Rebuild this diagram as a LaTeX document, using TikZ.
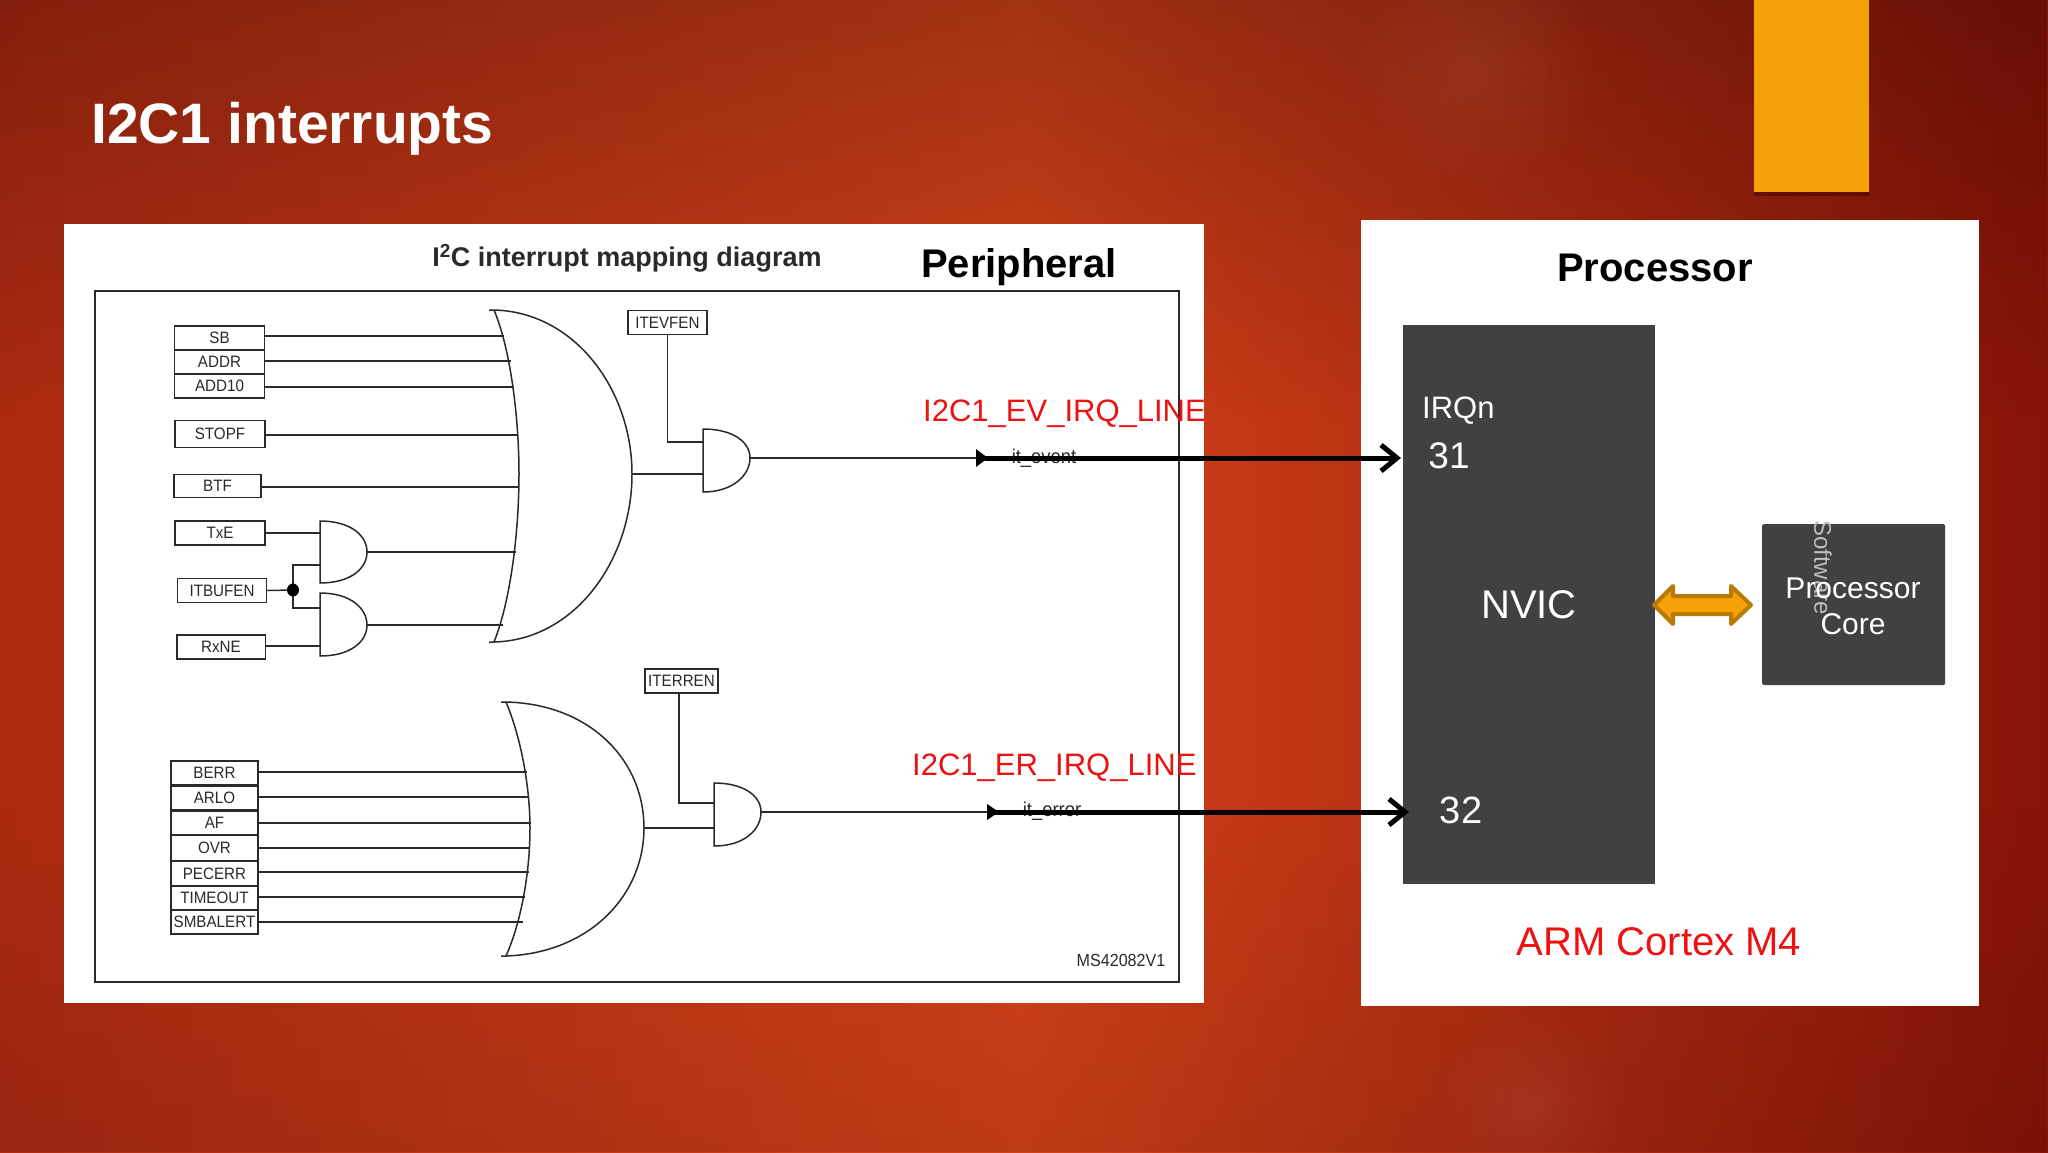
\documentclass[tikz,border=0pt]{standalone}
\usepackage{fontspec}
\setmainfont{Liberation Sans}
\newfontfamily\narrowf[FakeStretch=0.92]{Liberation Sans}
\usetikzlibrary{arrows.meta,fadings,shadows}
\newcommand{\fs}[1]{\fontsize{#1}{#1}\selectfont}
\definecolor{bgdark}{HTML}{AC2A12}
\definecolor{bgmid}{HTML}{D4421A}
\definecolor{bgright}{HTML}{861408}
\definecolor{wirecol}{HTML}{2A2A2A}
\definecolor{blockcol}{HTML}{414042}
\definecolor{amber}{HTML}{F5A209}
\definecolor{amberdk}{HTML}{B97A06}
\definecolor{redlabel}{HTML}{EE1111}
\tikzfading[name=softspot,inner color=transparent!0,outer color=transparent!100]
\tikzset{
  x=1pt,y=-1pt,
  wire/.style={draw=wirecol,line width=1.5pt},
  gate/.style={draw=wirecol,line width=1.5pt,line join=round},
  sigbox/.style={draw=wirecol,line width=1.5pt,fill=white,inner sep=0pt,text=wirecol,
    font=\narrowf\fs{16.5}},
  whitepanel/.style={fill=white},
  redtext/.style={text=redlabel,inner sep=0pt},
  wtext/.style={text=white,inner sep=0pt},
  heavy/.style={line width=5pt,black,shorten >=2pt,-{Straight Barb[length=16pt,width=26pt,line width=5pt]}},
  tinytext/.style={text=wirecol,inner sep=0pt,font=\narrowf\fs{20}},
}
\begin{document}
\begin{tikzpicture}
\useasboundingbox (0,0) rectangle (2048,1152);
% background
\shade[left color=bgdark,right color=bgright,middle color=bgmid] (0,0) rectangle (2048,1152);
\fill[black,opacity=.24,path fading=south] (0,0) rectangle (2048,420);
\fill[black,opacity=.10,path fading=north] (0,800) rectangle (2048,1152);
\fill[white,opacity=.06,path fading=softspot] (1475,65) circle (130);
\fill[white,opacity=.05,path fading=softspot] (1530,1105) circle (100);
% orange tab
\fill[black!70!red,opacity=.5] (1754,0) rectangle (1869,196);
\fill[amber] (1754,0) rectangle (1869,192);
% title
\node[text=white,inner sep=0pt,anchor=west,font=\bfseries\fs{57}] (title) at (91,129) {I2C1 interrupts};
% panels
\fill[whitepanel] (64,224) rectangle (1203.5,1003);
\fill[whitepanel] (1361,219.5) rectangle (1979,1006);
% frame
\node[draw=wirecol,line width=1.5pt,inner sep=0pt,minimum width=1084pt,minimum height=691pt,anchor=north west] (frame) at (94,290) {};
% headings
\node[inner sep=0pt,text=wirecol,font=\bfseries\fs{27}] (diag) at (627,258.5) {I\textsuperscript{2}C interrupt mapping diagram};
\node[inner sep=0pt,font=\bfseries\fs{40}] (periph) at (1019,267) {Peripheral};
\node[inner sep=0pt,font=\bfseries\fs{40}] (proc) at (1655,268) {Processor};
% event inputs
\node[sigbox,minimum width=90pt,minimum height=24pt] (sb) at (219.5,338) {SB};
\node[sigbox,minimum width=90pt,minimum height=24pt] (addr) at (219.5,362) {ADDR};
\node[sigbox,minimum width=90pt,minimum height=24pt] (add10) at (219.5,386) {ADD10};
\node[sigbox,minimum width=90pt,minimum height=27pt] (stopf) at (220,434) {STOPF};
\node[sigbox,minimum width=87pt,minimum height=23pt] (btf) at (217.5,486) {BTF};
\node[sigbox,minimum width=90pt,minimum height=24pt] (txe) at (220,533) {TxE};
\node[sigbox,minimum width=89pt,minimum height=24pt] (itbufen) at (222,590.5) {ITBUFEN};
\node[sigbox,minimum width=88.5pt,minimum height=24pt] (rxne) at (221,647) {RxNE};
\node[sigbox,minimum width=79pt,minimum height=24pt] (itevfen) at (667.5,322.5) {ITEVFEN};
% event gates
\draw[gate] (489,310) -- (494,310) .. controls (575,312) and (632,390) .. (632,474)
  .. controls (632,560) and (575,640) .. (494,642) -- (489,642);
\draw[gate] (494,310) .. controls (511,350) and (519,420) .. (519,474)
  .. controls (519,530) and (511,600) .. (494,642);
\coordinate (orA1) at (504,336);
\coordinate (orA2) at (511,361);
\coordinate (orA3) at (514,387);
\coordinate (orA4) at (517.5,435);
\coordinate (orA5) at (519,487);
\coordinate (orA6) at (516,552);
\coordinate (orA7) at (503,625);
\coordinate (orAout) at (632,474);
\draw[gate] (320,521) .. controls (350,521) and (367,535) .. (367,552)
  .. controls (367,569) and (350,583) .. (320,583) -- cycle;
\draw[gate] (320,593) .. controls (350,593) and (367,608) .. (367,625)
  .. controls (367,642) and (350,656) .. (320,656) -- cycle;
\draw[gate] (703,429) .. controls (733,429) and (750,442) .. (750,458)
  .. controls (750,475) and (733,492) .. (703,492) -- cycle;
\coordinate (and1out) at (367,552);
\coordinate (and2out) at (367,625);
\coordinate (and3out) at (750,458);
\coordinate (and1a) at (320,533);
\coordinate (and1b) at (320,565);
\coordinate (and2a) at (320,608);
\coordinate (and2b) at (320,646);
\coordinate (and3a) at (703,442);
\coordinate (and3b) at (703,474);
\coordinate (jn) at (293,590);
% event wires
\draw[wire] (sb.east |- orA1) -- (orA1);
\draw[wire] (addr.east |- orA2) -- (orA2);
\draw[wire] (add10.east |- orA3) -- (orA3);
\draw[wire] (stopf.east |- orA4) -- (orA4);
\draw[wire] (btf.east |- orA5) -- (orA5);
\draw[wire] (and1out) -- (orA6);
\draw[wire] (and2out) -- (orA7);
\draw[wire] (txe.east |- and1a) -- (and1a);
\draw[wire] (rxne.east |- and2b) -- (and2b);
\draw[wire] (itbufen.east) -- (jn);
\draw[wire] (and1b) -| (jn) |- (and2a);
\fill[black] (jn) ellipse (6pt and 6.5pt);
\draw[wire] (itevfen.south) |- (and3a);
\draw[wire] (orAout) -- (and3b);
\coordinate (evtri) at (976,458);
\draw[wire] (and3out) -- (frame.east |- and3out);
\fill[black] (976,449) -- (988,458) -- (976,467) -- cycle;
\node[tinytext] (itevent) at (1044,458) {it\_event};
% error inputs
\node[sigbox,minimum width=87pt,minimum height=24pt] (berr) at (214.5,773) {BERR};
\node[sigbox,minimum width=87pt,minimum height=24pt] (arlo) at (214.5,798) {ARLO};
\node[sigbox,minimum width=87pt,minimum height=24pt] (af) at (214.5,823) {AF};
\node[sigbox,minimum width=87pt,minimum height=25pt] (ovr) at (214.5,848) {OVR};
\node[sigbox,minimum width=87pt,minimum height=25pt] (pecerr) at (214.5,873.5) {PECERR};
\node[sigbox,minimum width=87pt,minimum height=24pt] (timeout) at (214.5,898) {TIMEOUT};
\node[sigbox,minimum width=87pt,minimum height=24pt] (smbalert) at (214.5,922) {SMBALERT};
\node[sigbox,minimum width=73pt,minimum height=24pt] (iterren) at (681.5,681) {ITERREN};
% error gates
\draw[gate] (501,702) -- (506,702) .. controls (590,704) and (644,760) .. (644,828)
  .. controls (644,895) and (590,953) .. (506,956) -- (501,956);
\draw[gate] (506,702) .. controls (522,740) and (530,790) .. (530,828)
  .. controls (530,870) and (522,920) .. (506,956);
\draw[gate] (714,783) .. controls (744,783) and (761,796) .. (761,812)
  .. controls (761,830) and (744,846) .. (714,846) -- cycle;
\coordinate (orB1) at (527,772);
\coordinate (orB2) at (529,797);
\coordinate (orB3) at (531,823);
\coordinate (orB4) at (530,848);
\coordinate (orB5) at (528.5,872);
\coordinate (orB6) at (525,897);
\coordinate (orB7) at (523,922);
\coordinate (orBout) at (644,828);
\coordinate (and4a) at (714,803);
\coordinate (and4b) at (714,828);
\coordinate (and4out) at (761,812);
\draw[wire] (berr.east |- orB1) -- (orB1);
\draw[wire] (arlo.east |- orB2) -- (orB2);
\draw[wire] (af.east |- orB3) -- (orB3);
\draw[wire] (ovr.east |- orB4) -- (orB4);
\draw[wire] (pecerr.east |- orB5) -- (orB5);
\draw[wire] (timeout.east |- orB6) -- (orB6);
\draw[wire] (smbalert.east |- orB7) -- (orB7);
\coordinate (iterrdrop) at (679,693);
\draw[wire] (iterrdrop) |- (and4a);
\draw[wire] (orBout) -- (and4b);
\draw[wire] (and4out) -- (frame.east |- and4out);
\fill[black] (987,804) -- (999,812) -- (987,820) -- cycle;
\node[tinytext] (iterror) at (1052,811) {it\_error};
\node[tinytext,font=\narrowf\fs{17.5}] (ms) at (1121,960) {MS42082V1};
% red labels
\node[redtext,anchor=west,font=\fs{31}] (evlabel) at (923,414) {I2C1\_EV\_IRQ\_LINE};
\node[redtext,anchor=west,font=\fs{31}] (erlabel) at (912,768) {I2C1\_ER\_IRQ\_LINE};
% NVIC
\node[fill=blockcol,inner sep=0pt,minimum width=252pt,minimum height=559pt,anchor=north west] (nvic) at (1403,325) {};
\node[wtext,font=\fs{40}] (nviclabel) at (1529,605) {NVIC};
\node[wtext,anchor=west,font=\fs{31}] (irqn) at (1422,411) {IRQn};
\node[wtext,font=\fs{37}] (n31) at (1449,456) {31};
\node[wtext,font=\fs{38}] (n32) at (1461,810) {32};
\node[redtext,font=\fs{40}] (arm) at (1659,942) {ARM Cortex M4};
% processor core
\node[fill=blockcol,rounded corners=1.5pt,inner sep=0pt,minimum width=183pt,minimum height=161pt,anchor=north west] (core) at (1762,524) {};
\node[inner sep=0pt,rotate=-90,text=white!65!blockcol,font=\fs{24}] (soft) at (1823,567.5) {Software};
\node[wtext,font=\fs{30}] (corea) at (1853,588) {Processor};
\node[wtext,font=\fs{30}] (coreb) at (1853,624) {Core};
% amber double arrow
\filldraw[fill=amber,draw=amberdk,line width=4pt,line join=round]
  (1654,605) -- (1673,586) -- (1673,596) -- (1731,596) -- (1731,586) -- (1751,605)
  -- (1731,624) -- (1731,614) -- (1673,614) -- (1673,624) -- cycle;
% heavy arrows
\draw[heavy] (evtri -| 985,0) -- (nvic.west |- evtri);
\coordinate (ertri) at (993,812);
\draw[heavy] (ertri) -- (1411,812);
\end{tikzpicture}
\end{document}
